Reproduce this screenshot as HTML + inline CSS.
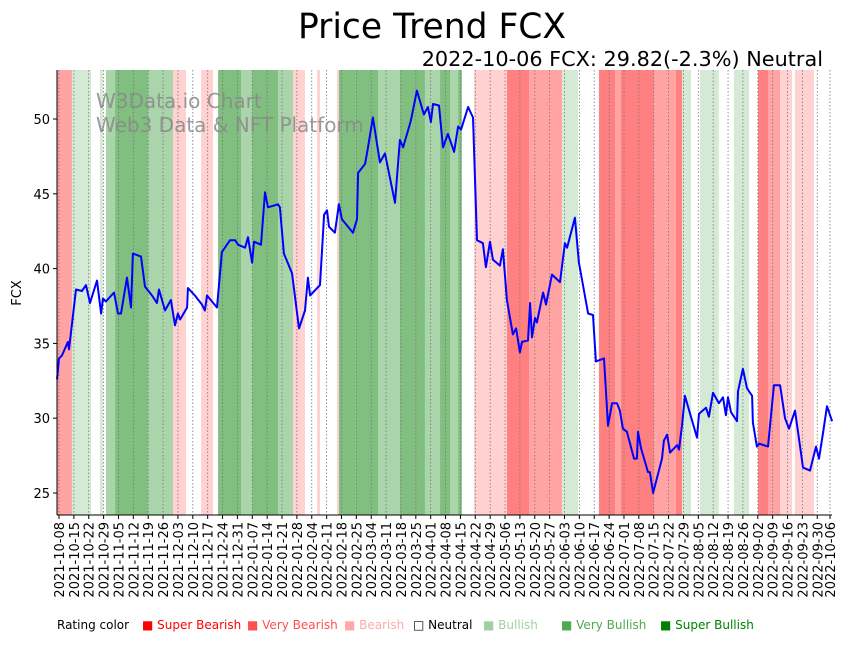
<!DOCTYPE html>
<html><head><meta charset="utf-8"><style>
body{margin:0;background:#fff;width:851px;height:641px;overflow:hidden;font-family:"Liberation Sans","DejaVu Sans",sans-serif}
</style></head><body>
<svg id="c" width="851" height="641" xmlns="http://www.w3.org/2000/svg" font-family="DejaVu Sans, Liberation Sans, sans-serif">
<text x="432" y="38" font-size="34.5" text-anchor="middle">Price Trend FCX</text>
<text x="823" y="66" font-size="20.8" text-anchor="end">2022-10-06 FCX: 29.82(-2.3%) Neutral</text>
<g id="bands"></g>
<g id="grid"></g>
<text x="96" y="108" font-size="20" fill="#888" fill-opacity="0.85">W3Data.io Chart</text>
<text x="96" y="132" font-size="20" fill="#888" fill-opacity="0.85">Web3 Data &amp; NFT Platform</text>
<path id="line" fill="none" stroke="#0000ff" stroke-width="2" stroke-linejoin="round"/>
<line x1="57" y1="70" x2="57" y2="515" stroke="#000"/>
<line x1="57" y1="515" x2="832" y2="515" stroke="#000"/>
<g id="yt" font-size="13"></g>
<g id="xt" font-size="13"></g>
<text transform="translate(21,293) rotate(-90)" font-size="13" text-anchor="middle">FCX</text>
<g font-size="12">
<text x="57" y="629">Rating color</text>
<text x="142" y="629" fill="#ff0000">■ Super Bearish</text>
<text x="247" y="629" fill="#ff5050">■ Very Bearish</text>
<text x="344" y="629" fill="#ffaaaa">■ Bearish</text>
<text x="413" y="629" fill="#000">□ Neutral</text>
<text x="483" y="629" fill="#a0d0a0">■ Bullish</text>
<text x="561" y="629" fill="#50aa50">■ Very Bullish</text>
<text x="660" y="629" fill="#008000">■ Super Bullish</text>
</g>
</svg>
<script>
const bandStart=[-1,6.1,15.1,19.3,20.7,22.1,26.4,41.9,53.7,59.8,66.9,72.5,74.9,85.7,90.9,103.1,110.2,115.8,121.5,122.9,130.9,131.8,139.4,150.2,160.5,172.3,179.4,184.1,187.9,189.7,195.4,210.9,221.3,236.8,244.4,254.2,261.8,264.6,280.1,290.5,293.3,297.6,301.8,310.7,317.8,324.9,329.1,333.8,339.5,345.1,346.5,355.5];
const bandRating=[-2,1,0,1,0,2,3,2,-1,0,-1,0,3,2,3,2,-1,0,-1,0,-1,3,3,2,3,2,3,2,3,0,-1,-3,-2,1,0,-3,-2,-3,-2,-3,1,0,1,0,1,0,-3,-2,-1,0,-1,0];
const priceDays=[-1,0,1.4,4.2,4.7,8,10.8,12.7,14.6,17.9,19.8,20.7,22.1,25.9,27.8,29.2,32,33.9,34.8,38.6,40.5,43.8,46.1,47.1,49.9,52.7,54.6,56,57,60.3,60.7,64,67.3,68.7,69.7,74.4,76.7,80.5,82.9,84.3,87.6,89,90.9,91.8,95.1,97,98.4,103.1,104,105.9,109.7,113,115.8,117.2,118.2,122.9,124.8,126.2,127.1,129.9,131.8,133.2,138.4,140.3,140.8,144.1,145.5,147.8,151.1,153.5,158.2,160.5,162,165.7,168.5,171.8,173.7,175.1,176.1,178.9,180.8,183.1,184.1,186,187.9,189.3,192.6,194.9,196.8,199.6,201,202.9,204.3,207.6,209,210.9,213.7,215.2,217,218,220.8,221.8,222.7,224.1,225,227.9,229.3,232.1,235.9,238.2,239.2,242.9,244.8,249.1,251.4,252.8,256.6,258.5,260.4,262.7,264.1,265.5,267.4,270.7,272.1,272.6,274,277.3,278.2,279.7,283.9,284.8,286.3,287.7,291,291.9,293.3,294.7,300.4,301.3,304.6,306,307.9,310.7,312.6,314,315,316.4,319.2,319.7,322,323.9,326.3,326.7,328.6,329.6,333.8,336.6,339.5,341.8,343.7,346.5,348.9,350.3,353.6,356.4,357.8,359.7,361.6,364];
const priceVals=[32.6,34.0,34.2,35.1,34.6,38.6,38.5,38.9,37.7,39.2,37.0,38.0,37.8,38.4,37.0,37.0,39.4,37.4,41.0,40.8,38.8,38.2,37.7,38.6,37.2,37.9,36.2,37.0,36.6,37.4,38.7,38.2,37.6,37.2,38.2,37.4,41.1,41.9,41.9,41.6,41.4,42.1,40.4,41.8,41.6,45.1,44.1,44.3,44.1,41.0,39.7,36.0,37.2,39.4,38.2,38.9,43.6,43.9,42.8,42.4,44.3,43.3,42.4,43.3,46.4,47.0,48.1,50.1,47.1,47.7,44.4,48.6,48.1,49.9,51.9,50.3,50.8,49.8,51.0,50.9,48.1,49.0,48.6,47.8,49.5,49.3,50.8,50.1,41.9,41.7,40.1,41.8,40.6,40.2,41.3,37.9,35.6,36.0,34.4,35.1,35.2,37.7,35.4,36.7,36.4,38.4,37.6,39.6,39.1,41.7,41.4,43.4,40.4,37.0,36.9,33.8,34.0,29.5,31.0,31.0,30.5,29.3,29.1,27.3,27.3,29.1,28.0,26.4,26.4,25.0,27.3,28.5,28.9,27.7,28.2,27.9,29.5,31.5,28.7,30.3,30.7,30.1,31.7,31.0,31.4,30.2,31.4,30.4,29.8,31.8,33.3,32.0,31.5,29.7,28.1,28.3,28.1,32.2,32.2,30.0,29.3,30.5,28.1,26.7,26.5,28.1,27.3,29.0,30.8,29.8];
const yTicks=[25,30,35,40,45,50];
const xTickLabels=[];
const NS='http://www.w3.org/2000/svg';
const X0=57,X1=832,Y0=70,Y1=515;
const xs=d=>59+d*(771/363);
const ys=v=>493-(v-25)*14.96;
const colors={"-3":"#ff8080","-2":"#ffa3a3","-1":"#ffd1d1","0":"#ffffff","1":"#d5ead5","2":"#aad4aa","3":"#80bf80"};
const bg=document.getElementById('bands');
for(let i=0;i<bandStart.length;i++){
 const a=Math.max(X0,xs(bandStart[i])),b=Math.min(X1,i+1<bandStart.length?xs(bandStart[i+1]):X1);
 const r=document.createElementNS(NS,'rect');
 r.setAttribute('x',a);r.setAttribute('y',Y0);r.setAttribute('width',Math.max(0,b-a));r.setAttribute('height',Y1-Y0);
 r.setAttribute('fill',colors[bandRating[i]]);
 
 
 bg.appendChild(r);
}
const start=new Date(Date.UTC(2021,9,8));
const tickDays=[];
for(let d=0;d<=357;d+=7)tickDays.push(d);tickDays.push(363);
tickDays.forEach(d=>{const t=new Date(start.getTime()+d*864e5);xTickLabels.push(t.toISOString().slice(0,10));});
const grid=document.getElementById('grid'),xt=document.getElementById('xt');
tickDays.forEach((d,i)=>{
 const x=xs(d);
 const l=document.createElementNS(NS,'line');
 l.setAttribute('x1',x);l.setAttribute('x2',x);l.setAttribute('y1',Y0);l.setAttribute('y2',Y1);
 l.setAttribute('stroke','#777');l.setAttribute('stroke-width','0.8');l.setAttribute('stroke-dasharray','1.5,2');
 
 
 grid.appendChild(l);
 const tk=document.createElementNS(NS,'line');
 tk.setAttribute('x1',x);tk.setAttribute('x2',x);tk.setAttribute('y1',Y1);tk.setAttribute('y2',Y1+4);tk.setAttribute('stroke','#000');
 
 
 xt.appendChild(tk);
 const t=document.createElementNS(NS,'text');
 t.setAttribute('transform',`translate(${x+5},${Y1+7}) rotate(-90)`);t.setAttribute('text-anchor','end');
 t.textContent=xTickLabels[i];
 
 
 xt.appendChild(t);
});
const yt=document.getElementById('yt');
yTicks.forEach(v=>{
 const y=ys(v);
 const tk=document.createElementNS(NS,'line');
 tk.setAttribute('x1',X0-4);tk.setAttribute('x2',X0);tk.setAttribute('y1',y);tk.setAttribute('y2',y);tk.setAttribute('stroke','#000');
 
 
 yt.appendChild(tk);
 const t=document.createElementNS(NS,'text');
 t.setAttribute('x',X0-7);t.setAttribute('y',y+5);t.setAttribute('text-anchor','end');t.textContent=v;
 
 
 yt.appendChild(t);
});
let d='';
priceDays.forEach((dd,i)=>{d+=(i?'L':'M')+Math.max(X0,xs(dd)).toFixed(1)+','+ys(priceVals[i]).toFixed(1);});
document.getElementById('line').setAttribute('d',d);
</script>
</body></html>
